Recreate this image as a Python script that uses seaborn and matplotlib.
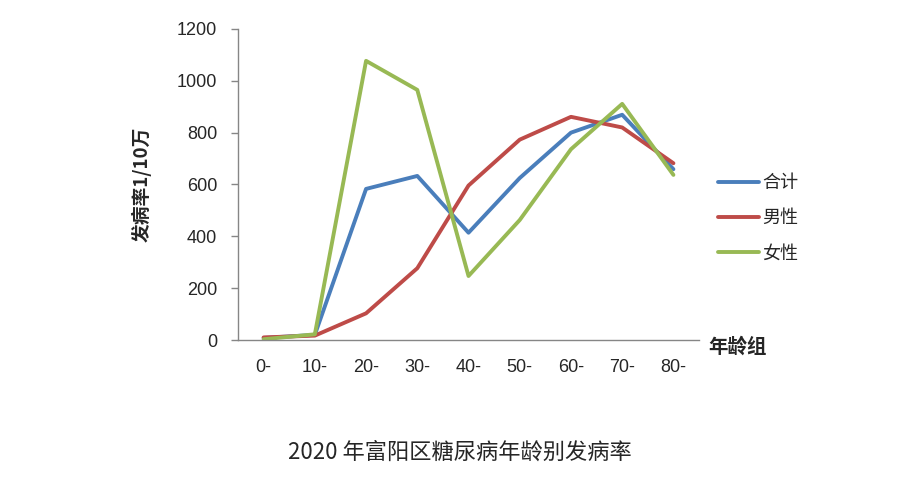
import numpy as np
import pandas as pd
import seaborn as sns
import matplotlib.pyplot as plt
from matplotlib.ticker import FixedLocator

# data
age_groups = ["0-", "10-", "20-", "30-", "40-", "50-", "60-", "70-", "80-"]
total = [8, 20, 583, 633, 414, 625, 800, 869, 659]
male = [10, 17, 103, 277, 596, 773, 861, 820, 682]
female = [3, 22, 1077, 965, 247, 463, 736, 911, 637]
series_names = ["合计", "男性", "女性"]
colors = ["#4A7EBB", "#BE4B48", "#98B954"]

df = pd.DataFrame({"age": age_groups * 3,
                   "rate": total + male + female,
                   "series": [s for s in series_names for _ in age_groups]})

sns.set_style("white")
plt.rcParams['font.family'] = ['Liberation Sans', 'Noto Sans CJK SC', 'DejaVu Sans']

fig = plt.figure(figsize=(9.14, 4.91), dpi=100)
ax = fig.add_axes([0.2604, 0.3075, 0.5044, 0.6335])

sns.lineplot(data=df, x="age", y="rate", hue="series", palette=colors,
             linewidth=2.8, ax=ax, sort=False)

ax.set_xlim(-0.5, 8.5)
ax.set_ylim(0, 1200)
ax.set_yticks(range(0, 1201, 200))
ax.set_xticks(range(len(age_groups)))
ax.set_xticklabels(age_groups)
ax.xaxis.set_minor_locator(FixedLocator(np.arange(-0.5, 9, 1)))
ax.tick_params(axis="x", which="major", length=0, pad=14, labelsize=13)
ax.tick_params(axis="x", which="minor", length=5, direction="in", color="#868686", width=1)
ax.tick_params(axis="y", which="major", length=5, direction="out", color="#868686",
               width=1, pad=10, labelsize=13, left=True)
for s in ["top", "right"]:
    ax.spines[s].set_visible(False)
for s in ["left", "bottom"]:
    ax.spines[s].set_color("#868686")
    ax.spines[s].set_linewidth(1)

ax.set_xlabel("")
ax.set_ylabel("发病率1/10万", fontsize=13.5, fontweight="bold",
              family=['Noto Sans CJK SC'], labelpad=18)
ax.text(1.02, 0.01, "年龄组", transform=ax.transAxes, fontsize=14, fontweight="bold",
        family=['Noto Sans CJK SC'], ha="left", va="top")

leg = ax.legend(loc="center left", bbox_to_anchor=(1.005, 0.392), frameon=False,
                prop={"family": "Noto Sans CJK SC", "size": 13},
                handlelength=2.3, handletextpad=0.15, labelspacing=0.95)

fig.text(0.503, 0.08, "2020 年富阳区糖尿病年龄别发病率", ha="center", va="center",
         fontsize=16, family=['Noto Sans CJK SC'])

plt.savefig("out.png", dpi=100)
